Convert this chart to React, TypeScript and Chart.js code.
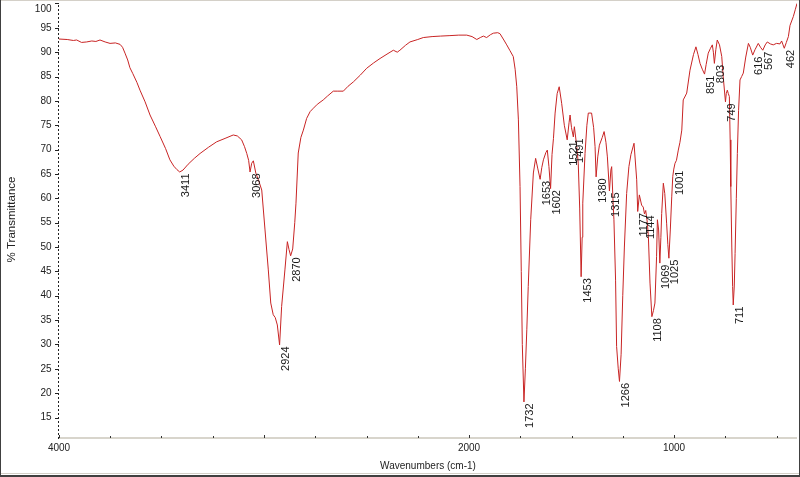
import React, { useEffect, useRef } from 'react';
import { Chart, registerables } from 'chart.js';

Chart.register(...registerables);

// Wavenumbers (cm-1), descending
const wavenumbers = [
  4000, 3960, 3930, 3914, 3890, 3865, 3840, 3820, 3800, 3775, 3751, 3725, 3702, 3690, 3678, 3665,
  3654, 3640, 3620, 3605, 3580, 3556, 3530, 3507, 3480, 3459, 3440, 3425, 3411, 3395, 3370, 3340,
  3312, 3270, 3231, 3190, 3150, 3130, 3109, 3095, 3084, 3075, 3068, 3060, 3052, 3040, 3025, 3011,
  2995, 2979, 2967, 2955, 2945, 2935, 2924, 2914, 2898, 2886, 2878, 2870, 2860, 2850, 2844, 2833,
  2820, 2808, 2792, 2775, 2759, 2740, 2711, 2690, 2662, 2640, 2613, 2590, 2564, 2530, 2499, 2465,
  2434, 2400, 2369, 2350, 2337, 2310, 2288, 2250, 2223, 2180, 2140, 2093, 2050, 2011, 1985, 1962,
  1945, 1930, 1914, 1895, 1881, 1860, 1849, 1830, 1816, 1800, 1784, 1775, 1767, 1759, 1751, 1745,
  1740, 1732, 1725, 1718, 1711, 1699, 1686, 1675, 1665, 1653, 1645, 1637, 1625, 1618, 1610, 1602,
  1595, 1588, 1580, 1570, 1560, 1548, 1535, 1521, 1512, 1507, 1500, 1491, 1486, 1475, 1467, 1460,
  1453, 1448, 1445, 1434, 1425, 1418, 1402, 1392, 1385, 1380, 1372, 1364, 1350, 1341, 1332, 1325,
  1315, 1308, 1304, 1298, 1293, 1285, 1280, 1272, 1266, 1258, 1250, 1242, 1231, 1220, 1210, 1195,
  1182, 1177, 1169, 1158, 1150, 1144, 1138, 1130, 1125, 1117, 1108, 1100, 1093, 1085, 1081, 1075,
  1069, 1064, 1060, 1052, 1045, 1036, 1030, 1025, 1018, 1011, 1006, 1001, 995, 988, 979, 971,
  962, 955, 945, 938, 922, 905, 893, 883, 873, 862, 851, 843, 833, 822, 813, 808,
  803, 796, 789, 778, 767, 760, 749, 745, 740, 735, 730, 726, 723, 718, 714, 711,
  706, 702, 696, 691, 685, 678, 670, 662, 650, 637, 628, 616, 605, 589, 578, 567,
  555, 545, 530, 516, 500, 483, 475, 468, 462, 452, 442, 434, 418, 408, 400,
];

// % Transmittance at each wavenumber
const transmittance = [
  92.7, 92.6, 92.4, 92.5, 92.0, 92.1, 92.3, 92.2, 92.5, 92.1, 91.8, 91.9, 91.6, 91.0, 89.8, 88.4,
  86.8, 85.6, 83.8, 82.2, 79.8, 77.1, 74.8, 72.7, 70.2, 67.9, 66.6, 65.9, 65.4, 65.8, 67.0, 68.2,
  69.2, 70.5, 71.6, 72.3, 73.0, 72.8, 72.0, 70.6, 69.2, 67.8, 65.4, 67.2, 67.7, 65.2, 63.5, 61.7,
  53.5, 45.3, 38.5, 36.1, 35.5, 34.0, 29.9, 37.8, 45.3, 51.1, 49.5, 48.2, 49.6, 55.0, 59.0, 69.3,
  72.5, 74.0, 76.4, 77.8, 78.5, 79.3, 80.2, 81.0, 82.0, 82.0, 82.0, 83.0, 83.9, 85.3, 86.7, 87.8,
  88.7, 89.6, 90.4, 90.0, 90.4, 91.4, 92.1, 92.6, 93.0, 93.2, 93.3, 93.4, 93.5, 93.5, 93.2, 92.6,
  93.0, 93.3, 93.0, 93.6, 93.9, 94.0, 93.8, 92.5, 91.5, 90.3, 89.1, 86.5, 82.9, 76.1, 62.4, 45.0,
  30.0, 18.2, 25.0, 33.0, 41.9, 55.6, 65.2, 68.2, 66.2, 63.9, 66.3, 67.9, 69.4, 69.9, 66.5, 62.0,
  69.0, 72.3, 77.5, 81.5, 82.9, 79.5, 75.0, 72.0, 75.5, 77.1, 74.5, 72.6, 74.7, 70.9, 67.2, 58.0,
  43.9, 52.0, 59.0, 69.2, 75.0, 77.5, 77.5, 74.5, 70.6, 64.4, 68.5, 70.9, 72.5, 73.7, 71.5, 68.5,
  61.5, 65.8, 66.5, 60.0, 55.6, 43.2, 29.6, 25.0, 22.4, 28.0, 40.0, 50.0, 61.0, 66.5, 69.0, 71.3,
  63.8, 57.3, 60.7, 58.6, 58.2, 56.8, 57.5, 55.0, 52.1, 42.6, 35.7, 37.0, 38.5, 48.0, 55.6, 53.5,
  46.7, 52.0, 56.9, 63.1, 61.0, 54.9, 50.5, 47.7, 53.5, 60.3, 64.5, 66.0, 67.2, 67.8, 69.9, 71.5,
  74.0, 80.2, 81.0, 81.6, 86.3, 89.5, 91.1, 89.5, 87.7, 86.5, 85.5, 87.5, 89.8, 90.8, 91.5, 90.0,
  87.7, 90.5, 92.5, 91.5, 89.1, 85.0, 79.8, 81.5, 82.2, 81.5, 80.9, 72.0, 62.4, 50.0, 41.9, 38.1,
  42.0, 48.7, 60.0, 69.2, 78.0, 84.3, 85.0, 85.7, 89.0, 91.8, 91.0, 89.4, 90.5, 91.8, 91.0, 90.4,
  91.5, 92.1, 91.7, 91.5, 91.8, 91.7, 92.3, 91.5, 90.8, 92.0, 93.2, 95.5, 97.3, 98.8, 100.0,
];

// Labelled peaks (cm-1)
const peakLabels = [
  3411, 3068, 2924, 2870, 1732, 1653, 1602, 1521, 1491, 1453, 1380, 1315, 1266,
  1177, 1144, 1108, 1069, 1025, 1001, 851, 803, 749, 711, 616, 567, 462,
];

const yTickValues = [15, 20, 25, 30, 35, 40, 45, 50, 55, 60, 65, 70, 75, 80, 85, 90, 95, 100];
const xTickValues = [4000, 2000, 1000];

const X_MIN = 400;
const X_MAX = 4000;
const Y_MIN = 11;
const Y_MAX = 100.3;

const FONT = '"Liberation Sans", Arial, sans-serif';

function valueAt(w: number): number {
  for (let i = 0; i < wavenumbers.length - 1; i++) {
    const a = wavenumbers[i];
    const b = wavenumbers[i + 1];
    if (w <= a && w >= b) {
      const t = (a - w) / (a - b);
      return transmittance[i] + t * (transmittance[i + 1] - transmittance[i]);
    }
  }
  return transmittance[transmittance.length - 1];
}

export default function App() {
  const ref = useRef<HTMLCanvasElement>(null);

  useEffect(() => {
    const canvas = ref.current;
    if (!canvas) return;

    const decor = {
      id: 'decor',
      afterDraw(chart: any) {
        const { ctx, chartArea } = chart;
        const x = chart.scales.x;
        const y = chart.scales.y;
        ctx.save();

        // x axis line
        ctx.fillStyle = '#d8d5cc';
        ctx.fillRect(chartArea.left, chartArea.bottom, chartArea.right - chartArea.left, 2);

        // x ticks
        ctx.fillStyle = '#333';
        for (let w = X_MAX; w > X_MIN; w -= 250) {
          const px = Math.round(x.getPixelForValue(w));
          const major = w % 1000 === 0;
          ctx.fillRect(px, chartArea.bottom - (major ? 2 : 1), 1, major ? 3 : 2);
        }

        // y axis dotted line
        ctx.fillStyle = '#222';
        const top = Math.round(chartArea.top);
        for (let py = Math.round(chartArea.bottom); py >= top; py -= 4) {
          ctx.fillRect(chartArea.left - 1, py, 1, 2);
        }
        for (const v of yTickValues) {
          const py = Math.round(y.getPixelForValue(v));
          ctx.fillRect(chartArea.left - 4, py, 4, 1);
        }

        // y tick labels
        ctx.font = `10px ${FONT}`;
        ctx.fillStyle = '#222';
        ctx.textAlign = 'right';
        ctx.textBaseline = 'middle';
        for (const v of yTickValues) {
          const py = Math.max(9, y.getPixelForValue(v));
          ctx.fillText(String(v), chartArea.left - 7.5, py);
        }

        // peak labels
        ctx.font = `11px ${FONT}`;
        ctx.fillStyle = '#1a1a1a';
        for (const w of peakLabels) {
          const px = x.getPixelForValue(w);
          const py = y.getPixelForValue(valueAt(w));
          ctx.save();
          ctx.translate(px + 6.5, py + 1.5);
          ctx.rotate(-Math.PI / 2);
          ctx.textAlign = 'right';
          ctx.textBaseline = 'middle';
          ctx.fillText(String(w), 0, 0);
          ctx.restore();
        }

        // frame
        ctx.fillStyle = '#d4d0c8';
        ctx.fillRect(0, 0, 800, 1);
        ctx.fillRect(0, 473, 800, 1);
        ctx.fillStyle = '#404040';
        ctx.fillRect(0, 0, 1, 477);
        ctx.fillRect(799, 0, 1, 477);
        ctx.fillRect(0, 475, 800, 2);

        ctx.restore();
      },
    };

    const chart = new Chart(canvas, {
      type: 'line',
      data: {
        datasets: [
          {
            data: wavenumbers.map((w, i) => ({ x: w, y: transmittance[i] })),
            borderColor: 'rgb(200, 36, 36)',
            borderWidth: 1,
            pointRadius: 0,
            tension: 0,
            fill: false,
          },
        ],
      },
      options: {
        responsive: false,
        devicePixelRatio: 1,
        animation: false,
        parsing: false,
        layout: { padding: { left: 0, right: 3, top: 2, bottom: 0 } },
        plugins: {
          legend: { display: false },
          tooltip: { enabled: false },
        },
        scales: {
          x: {
            type: 'linear',
            reverse: true,
            min: X_MIN,
            max: X_MAX,
            afterBuildTicks: (s: any) => {
              s.ticks = xTickValues.map((v) => ({ value: v }));
            },
            afterFit: (s: any) => {
              s.height = 40;
            },
            grid: { display: false, drawTicks: false },
            border: { display: false },
            ticks: {
              font: { family: FONT, size: 10 },
              color: '#222',
              padding: 5,
              maxRotation: 0,
              autoSkip: false,
              callback: (v: any) => String(v),
            },
            title: {
              display: true,
              text: 'Wavenumbers (cm-1)',
              font: { family: FONT, size: 10 },
              color: '#222',
              padding: { top: 0, bottom: 5 },
            },
          },
          y: {
            type: 'linear',
            min: Y_MIN,
            max: Y_MAX,
            afterFit: (s: any) => {
              s.width = 59;
            },
            grid: { display: false, drawTicks: false },
            border: { display: false },
            ticks: { display: false },
            title: {
              display: true,
              text: '% Transmittance',
              font: { family: FONT, size: 11.5 },
              color: '#222',
              padding: { top: 5, bottom: 0 },
            },
          },
        },
      },
      plugins: [decor],
    } as any);

    return () => chart.destroy();
  }, []);

  return (
    <div style={{ position: 'fixed', left: 0, top: 0, width: 800, height: 477, background: '#fff' }}>
      <canvas ref={ref} width={800} height={477} style={{ display: 'block', width: 800, height: 477 }} />
    </div>
  );
}
